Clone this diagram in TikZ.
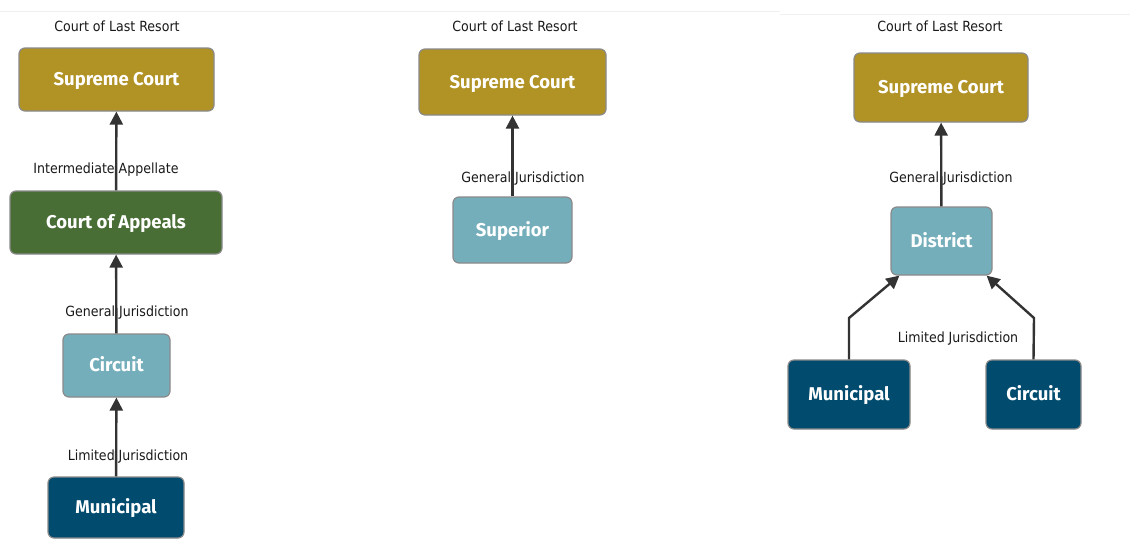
\documentclass[tikz,border=0pt]{standalone}
\usepackage{fontspec}
\usetikzlibrary{arrows.meta}
\newfontfamily\labelfont{DejaVu Sans Condensed}
\newfontfamily\boxfont{Fira Sans}
\definecolor{gold}{HTML}{B09225}
\definecolor{green}{HTML}{496E35}
\definecolor{lblue}{HTML}{75AEBB}
\definecolor{dblue}{HTML}{004B6E}
\definecolor{edge}{HTML}{8A8A8A}
\definecolor{arrowc}{HTML}{333333}
\tikzset{
  court/.style={draw=edge, line width=1.2pt, rounded corners=6pt, text=white,
    font=\boxfont\bfseries\fontsize{18.5}{20}\selectfont, inner sep=0pt,
    text height=12.8pt, text depth=0pt},
  lbl/.style={font=\labelfont\fontsize{14}{16}\selectfont, text=black!90, inner sep=0pt, yshift=-1.5pt},
  arr/.style={draw=arrowc, line width=2.4pt, -{Triangle[length=13pt,width=13pt]}},
  faint/.style={draw=black!6, line width=1pt}
}
\begin{document}
\begin{tikzpicture}[x=1pt,y=-1pt]
\useasboundingbox (0,0) rectangle (1130,539);
\fill[white] (0,0) rectangle (1130,539);
\draw[faint] (0,11) -- (780,11);
\draw[faint] (780,14) -- (1130,14);

% Panel 1
\node[lbl] (t1) at (117,25) {Court of Last Resort};
\node[court, fill=gold, minimum width=195, minimum height=63] (sc1) at (116.5,79.5) {Supreme Court};
\node[court, fill=green, minimum width=212, minimum height=63] (ca1) at (116,222.5) {Court of Appeals};
\node[court, fill=lblue, minimum width=107, minimum height=63] (ci1) at (116.5,365.5) {Circuit};
\node[court, fill=dblue, minimum width=136, minimum height=61] (mu1) at (116,507.5) {Municipal};
\draw[arr] (ca1) -- (sc1);
\draw[arr] (ci1) -- (ca1);
\draw[arr] (mu1) -- (ci1);
\node[lbl] (l1a) at (106,168) {Intermediate Appellate};
\node[lbl] (l1b) at (127,311) {General Jurisdiction};
\node[lbl] (l1c) at (128,455) {Limited Jurisdiction};

% Panel 2
\node[lbl] (t2) at (515,25) {Court of Last Resort};
\node[court, fill=gold, minimum width=187, minimum height=66] (sc2) at (512.5,82) {Supreme Court};
\node[court, fill=lblue, minimum width=119, minimum height=66] (su2) at (512.5,230) {Superior};
\draw[arr] (su2) -- (sc2);
\node[lbl] (l2a) at (523,177) {General Jurisdiction};

% Panel 3
\node[lbl] (t3) at (940,25) {Court of Last Resort};
\node[court, fill=gold, minimum width=174, minimum height=69] (sc3) at (941,87.5) {Supreme Court};
\node[court, fill=lblue, minimum width=101, minimum height=68] (di3) at (941.5,241) {District};
\node[court, fill=dblue, minimum width=122, minimum height=69] (mu3) at (849,394.5) {Municipal};
\node[court, fill=dblue, minimum width=95, minimum height=69] (ci3) at (1033.5,394.5) {Circuit};
\coordinate (bl) at (849,318);
\coordinate (br) at (1034,318);
\draw[arr] (di3) -- (sc3);
\draw[arr] (mu3.north) -- (bl) -- ([xshift=9]di3.south west);
\draw[arr] (ci3.north) -- (br) -- ([xshift=-6]di3.south east);
\node[lbl] (l3a) at (951,177) {General Jurisdiction};
\node[lbl] (l3b) at (958,337) {Limited Jurisdiction};
\end{tikzpicture}
\end{document}
